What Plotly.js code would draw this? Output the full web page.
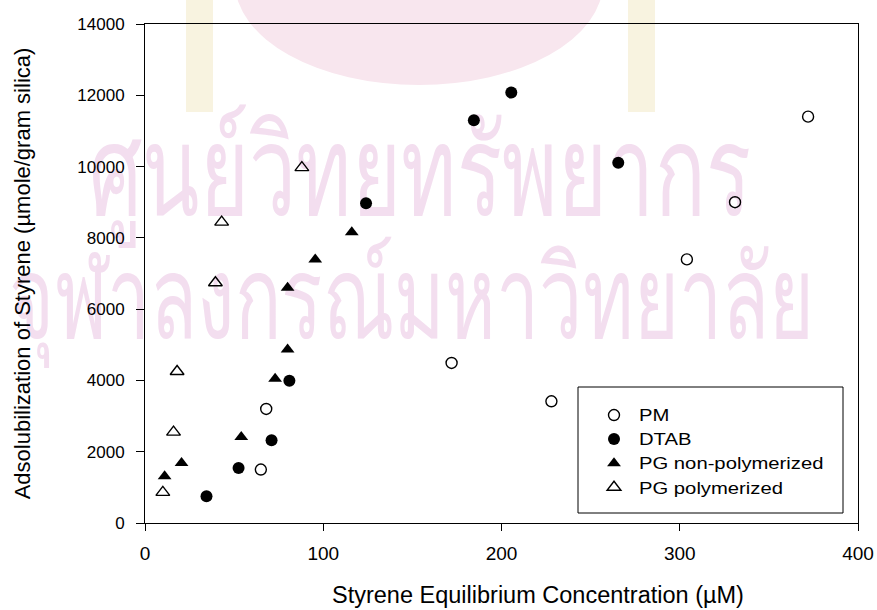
<!DOCTYPE html>
<html>
<head>
<meta charset="utf-8">
<script src="https://cdn.plot.ly/plotly-3.0.1.min.js"></script>
<style>
html,body{margin:0;padding:0;background:#fff;}
#chart{width:877px;height:610px;}
/* reference legend lettering is horizontally wide */
#chart .legendtext{transform:scaleX(1.25);transform-box:fill-box;transform-origin:0% 50%;}
#chart .legend, #chart .legend *{clip-path:none !important;}
/* watermark lettering is tall and narrow */
#chart .layer-below text{transform:scaleY(1.5);transform-box:fill-box;transform-origin:50% 50%;}
</style>
</head>
<body>
<div id="chart"></div>
<script>
// Data
const pmX = [65, 68, 172, 228, 304, 331, 372];
const pmY = [1500, 3200, 4490, 3415, 7395, 9000, 11400];
const dtabX = [34.5, 52.5, 71, 81, 124, 184.5, 205.5, 265.5];
const dtabY = [750, 1545, 2320, 3990, 8970, 11300, 12075, 10110];
const pgnX = [11, 20.5, 54, 73, 80, 80, 95.5, 116];
const pgnY = [1310, 1685, 2415, 4045, 4870, 6600, 7395, 8160];
const pgpX = [10, 16, 18, 39.5, 43, 88];
const pgpY = [860, 2550, 4250, 6740, 8440, 9970];
const seriesNames = ['PM', 'DTAB', 'PG non-polymerized', 'PG polymerized'];
const xTitle = 'Styrene Equilibrium Concentration (µM)';
const yTitle = 'Adsolubilization of Styrene (µmole/gram silica)';
const watermark1 = 'ศูนย์วิทยทรัพยากร';
const watermark2 = 'จุฬาลงกรณ์มหาวิทยาลัย';

const font = 'Liberation Sans, Arial, Helvetica, sans-serif';

const traces = [
  {x: pmX, y: pmY, name: seriesNames[0], type: 'scatter', mode: 'markers',
   marker: {symbol: 'circle-open', size: 11, color: '#000', line: {width: 1.4, color: '#000'}}},
  {x: dtabX, y: dtabY, name: seriesNames[1], type: 'scatter', mode: 'markers',
   marker: {symbol: 'circle', size: 12, color: '#000'}},
  {x: pgnX, y: pgnY, name: seriesNames[2], type: 'scatter', mode: 'markers',
   marker: {symbol: 'triangle-up', size: 12, color: '#000'}},
  {x: pgpX, y: pgpY, name: seriesNames[3], type: 'scatter', mode: 'markers',
   marker: {symbol: 'triangle-up-open', size: 12, color: '#000', line: {width: 1.4, color: '#000'}}}
];

// pixel -> paper helpers (plot area 145..858 x 24..523)
const px = v => (v - 145) / 713;
const py = v => (523 - v) / 499;

const pink = '#f3deef';
const layout = {
  width: 877, height: 610,
  margin: {l: 145, r: 19, t: 24, b: 87},
  paper_bgcolor: '#fff',
  plot_bgcolor: 'rgba(0,0,0,0)',
  font: {family: font, size: 16, color: '#000'},
  showlegend: true,
  legend: {x: px(589), y: py(398), xanchor: 'left', yanchor: 'top', bgcolor: 'rgba(0,0,0,0)',
           borderwidth: 0, itemwidth: 40,
           font: {family: font, size: 16.2, color: '#000'}},
  xaxis: {range: [0, 400], dtick: 100, tick0: 0, ticks: 'outside', ticklen: 7, tickwidth: 1,
          tickcolor: '#000', showline: true, linecolor: '#000', linewidth: 1, mirror: true,
          showgrid: false, zeroline: false, ticklabelstandoff: 6,
          tickfont: {family: font, size: 19}},
  yaxis: {range: [0, 14000], dtick: 2000, tick0: 0, tickformat: 'd', ticks: 'outside', ticklen: 8, tickwidth: 1,
          tickcolor: '#000', showline: true, linecolor: '#000', linewidth: 1, mirror: true,
          showgrid: false, zeroline: false, ticklabelstandoff: 8,
          tickfont: {family: font, size: 17},
          title: {text: yTitle, font: {family: font, size: 22}, standoff: 40}},
  annotations: [
    {text: xTitle, xref: 'paper', yref: 'paper', x: px(538), y: py(595), xanchor: 'center', yanchor: 'middle',
     showarrow: false, font: {family: font, size: 23.5, color: '#000'}}
  ],
  shapes: [
    // watermark emblem (faint)
    {type: 'circle', xref: 'paper', yref: 'paper', layer: 'below',
     x0: px(235), x1: px(603), y0: py(85), y1: py(-120),
     fillcolor: '#f8e6ee', line: {width: 0}},
    {type: 'rect', xref: 'paper', yref: 'paper', layer: 'below',
     x0: px(186), x1: px(213), y0: py(112), y1: py(-2),
     fillcolor: '#f8f3e0', line: {width: 0}},
    {type: 'rect', xref: 'paper', yref: 'paper', layer: 'below',
     x0: px(628), x1: px(655), y0: py(112), y1: py(-2),
     fillcolor: '#f8f3e0', line: {width: 0}},
    // watermark text
    {type: 'rect', xref: 'paper', yref: 'paper', layer: 'below',
     x0: px(90), x1: px(750), y0: py(209), y1: py(123),
     fillcolor: 'rgba(0,0,0,0)', line: {width: 0},
     label: {text: watermark1, textposition: 'middle center', font: {size: 84, color: pink}}},
    {type: 'rect', xref: 'paper', yref: 'paper', layer: 'below',
     x0: px(12), x1: px(812), y0: py(339), y1: py(249),
     fillcolor: 'rgba(0,0,0,0)', line: {width: 0},
     label: {text: watermark2, textposition: 'middle center', font: {size: 77, color: pink}}},
    // legend box
    {type: 'rect', xref: 'paper', yref: 'paper', layer: 'above',
     x0: px(578), x1: px(843), y0: py(513), y1: py(387),
     fillcolor: 'rgba(255,255,255,0)', line: {width: 1, color: '#000'}}
  ]
};

Plotly.newPlot('chart', traces, layout, {displayModeBar: false, staticPlot: true});
</script>
</body>
</html>
